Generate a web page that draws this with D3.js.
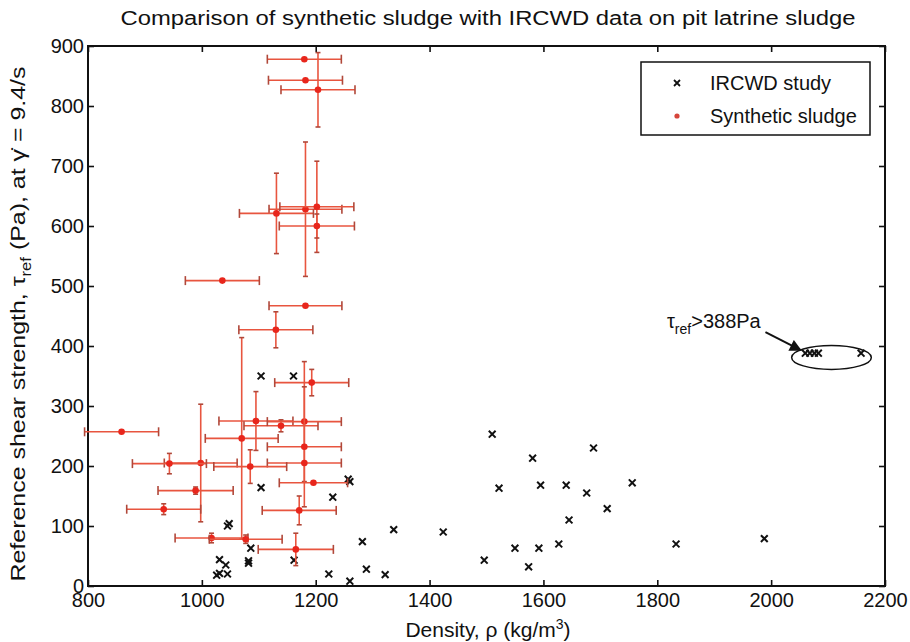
<!DOCTYPE html>
<html>
<head>
<meta charset="utf-8">
<script src="https://cdn.jsdelivr.net/npm/d3@7"></script>
<style>
body { margin: 0; background: #fff; }
text { font-family: "Liberation Sans", Arial, sans-serif; fill: #111; }
</style>
</head>
<body>
<svg id="chart" width="910" height="642"></svg>
<script>
// IRCWD study (black crosses)
var ircwdDensity = [1257, 1260, 1104, 1230, 1048, 1045, 1282, 1086, 1031, 1082, 1082, 1162, 1042, 1289,
  1026, 1031, 1045, 1223, 1260, 1322, 1104, 1161, 1337, 1424, 1510, 1522, 1496, 1550, 1574, 1581,
  1592, 1595, 1627, 1640, 1645, 1676, 1688, 1712, 1756, 1833, 1988, 2060, 2068, 2076, 2083, 2158];
var ircwdTau = [178, 174, 164, 148, 104, 100, 74, 63, 44, 42, 38, 43, 35, 28,
  18, 21, 20, 20, 8, 19, 350, 350, 94, 90, 253, 163, 43, 63, 32, 213,
  63, 168, 70, 168, 110, 155, 230, 129, 172, 70, 79, 388, 388, 388, 388, 388];

// Synthetic sludge (red dots with error bars)
var synDensity = [1180, 1182, 1204, 1182, 1202, 1131, 1202, 1036, 1182, 1130, 1193, 1095, 1139, 1180,
  1070, 1180, 1180, 998, 943, 1085, 1196, 989, 933, 1171, 1017, 1077, 1165, 859];
var synTau = [878, 843, 827, 628, 632, 621, 600, 509, 467, 427, 339, 275, 267, 274,
  246, 232, 205, 205, 204, 199, 172, 159, 128, 126, 80, 78, 61, 257];
var synDensityErr = [65, 65, 65, 64, 65, 65, 66, 65, 64, 65, 65, 65, 65, 65,
  64, 65, 65, 64, 65, 64, 60, 66, 65, 65, 64, 64, 66, 65];
var synTauErr = [0, 0, 62, 112, 76, 67, 20, 0, 0, 30, 22, 49, 10, 100,
  168, 100, 0, 98, 17, 28, 0, 6, 9, 24, 8, 7, 27, 0];

var xTicks = [800, 1000, 1200, 1400, 1600, 1800, 2000, 2200];
var yTicks = [0, 100, 200, 300, 400, 500, 600, 700, 800, 900];

// annotation for the off-scale IRCWD samples
var noteText = ">388Pa";
var noteAt = [1817, 430];
var arrowFrom = [1990, 423], arrowTo = [2052, 393];
var ringCentre = [2106, 381], ringRadius = [70, 20];

var svg = d3.select("#chart");
// plot box edges ("top" is taken by window.top, so prefix them)
var pLeft = 88, pRight = 885, pTop = 46, pBottom = 586;

var x = d3.scaleLinear().domain([800, 2200]).range([pLeft, pRight]);
var y = d3.scaleLinear().domain([0, 900]).range([pBottom, pTop]);

// title
svg.append("text")
  .attr("x", 488).attr("y", 25)
  .attr("text-anchor", "middle")
  .style("font-size", "20px")
  .attr("textLength", 735).attr("lengthAdjust", "spacingAndGlyphs")
  .text("Comparison of synthetic sludge with IRCWD data on pit latrine sludge");

// axes, ticks point inwards on all four sides
svg.append("g").attr("transform", "translate(0," + pBottom + ")")
  .call(d3.axisBottom(x).tickValues(xTicks).tickFormat(d3.format("d"))
    .tickSizeInner(-6).tickSizeOuter(0).tickPadding(7));
svg.append("g").attr("transform", "translate(" + pLeft + ",0)")
  .call(d3.axisLeft(y).tickValues(yTicks).tickFormat(d3.format("d"))
    .tickSizeInner(-6).tickSizeOuter(0).tickPadding(4));
svg.append("g").attr("transform", "translate(0," + pTop + ")")
  .call(d3.axisTop(x).tickValues(xTicks).tickSizeInner(-6).tickSizeOuter(0).tickFormat(""));
svg.append("g").attr("transform", "translate(" + pRight + ",0)")
  .call(d3.axisRight(y).tickValues(yTicks).tickSizeInner(-6).tickSizeOuter(0).tickFormat(""));

svg.selectAll(".domain").remove();
svg.selectAll(".tick line").attr("stroke", "#111").attr("stroke-width", 1.6);
svg.selectAll(".tick text").style("font-size", "20px").attr("fill", "#111")
  .style("font-family", "'Liberation Sans', Arial, sans-serif");

svg.append("rect")
  .attr("x", pLeft).attr("y", pTop)
  .attr("width", pRight - pLeft).attr("height", pBottom - pTop)
  .attr("fill", "none").attr("stroke", "#111").attr("stroke-width", 2);

// axis titles
var xlab = svg.append("text")
  .attr("x", 488).attr("y", 637)
  .attr("text-anchor", "middle")
  .style("font-size", "21px");
xlab.append("tspan").text("Density, ρ (kg/m");
xlab.append("tspan").attr("dy", -8).style("font-size", "14px").text("3");
xlab.append("tspan").attr("dy", 8).text(")");

var ylab = svg.append("text")
  .attr("transform", "translate(25,324)rotate(-90)")
  .attr("text-anchor", "middle")
  .style("font-size", "21px")
  .attr("textLength", 515).attr("lengthAdjust", "spacingAndGlyphs");
ylab.append("tspan").text("Reference shear strength, τ");
ylab.append("tspan").attr("dy", 6).style("font-size", "14px").text("ref");
ylab.append("tspan").attr("dy", -6).text(" (Pa), at γ\u0307 = 9.4/s");

// IRCWD crosses
var cross = 3.4;
svg.append("g").selectAll("path")
  .data(d3.range(ircwdDensity.length))
  .enter().append("path")
  .attr("d", function(i) {
    var cx = x(ircwdDensity[i]), cy = y(ircwdTau[i]);
    return "M" + (cx - cross) + "," + (cy - cross) + "L" + (cx + cross) + "," + (cy + cross)
         + "M" + (cx - cross) + "," + (cy + cross) + "L" + (cx + cross) + "," + (cy - cross);
  })
  .attr("stroke", "#111").attr("stroke-width", 2).attr("fill", "none");

// synthetic sludge error bars
var barColour = "#e8553f", capColour = "#b0483a";
var err = svg.append("g").selectAll("g")
  .data(d3.range(synDensity.length))
  .enter().append("g");

err.append("line")
  .attr("x1", function(i) { return x(synDensity[i] - synDensityErr[i]); })
  .attr("x2", function(i) { return x(synDensity[i] + synDensityErr[i]); })
  .attr("y1", function(i) { return y(synTau[i]); })
  .attr("y2", function(i) { return y(synTau[i]); })
  .attr("stroke", barColour).attr("stroke-width", 1.6);

err.filter(function(i) { return synTauErr[i] > 0; }).append("line")
  .attr("x1", function(i) { return x(synDensity[i]); })
  .attr("x2", function(i) { return x(synDensity[i]); })
  .attr("y1", function(i) { return y(synTau[i] - synTauErr[i]); })
  .attr("y2", function(i) { return y(synTau[i] + synTauErr[i]); })
  .attr("stroke", barColour).attr("stroke-width", 1.6);

// caps on both bars
[-1, 1].forEach(function(s) {
  err.append("line")
    .attr("x1", function(i) { return x(synDensity[i] + s * synDensityErr[i]); })
    .attr("x2", function(i) { return x(synDensity[i] + s * synDensityErr[i]); })
    .attr("y1", function(i) { return y(synTau[i]) - 4.5; })
    .attr("y2", function(i) { return y(synTau[i]) + 4.5; })
    .attr("stroke", capColour).attr("stroke-width", 1.6);
  err.filter(function(i) { return synTauErr[i] > 0; }).append("line")
    .attr("x1", function(i) { return x(synDensity[i]) - 2.5; })
    .attr("x2", function(i) { return x(synDensity[i]) + 2.5; })
    .attr("y1", function(i) { return y(synTau[i] + s * synTauErr[i]); })
    .attr("y2", function(i) { return y(synTau[i] + s * synTauErr[i]); })
    .attr("stroke", capColour).attr("stroke-width", 1.6);
});

err.append("circle")
  .attr("cx", function(i) { return x(synDensity[i]); })
  .attr("cy", function(i) { return y(synTau[i]); })
  .attr("r", 3.3)
  .attr("fill", "#e8261c");

// ring + arrow annotation
svg.append("ellipse")
  .attr("cx", x(ringCentre[0])).attr("cy", y(ringCentre[1]))
  .attr("rx", x(ringCentre[0] + ringRadius[0]) - x(ringCentre[0]))
  .attr("ry", y(ringCentre[1]) - y(ringCentre[1] + ringRadius[1]))
  .attr("fill", "none").attr("stroke", "#111").attr("stroke-width", 1.5);

svg.append("defs").append("marker")
  .attr("id", "head").attr("viewBox", "0 0 10 10")
  .attr("refX", 9).attr("refY", 5)
  .attr("markerWidth", 7).attr("markerHeight", 6)
  .attr("orient", "auto")
  .append("path").attr("d", "M0,0L10,5L0,10Z").attr("fill", "#111");

svg.append("line")
  .attr("x1", x(arrowFrom[0])).attr("y1", y(arrowFrom[1]))
  .attr("x2", x(arrowTo[0])).attr("y2", y(arrowTo[1]))
  .attr("stroke", "#111").attr("stroke-width", 2)
  .attr("marker-end", "url(#head)");

var note = svg.append("text")
  .attr("x", x(noteAt[0])).attr("y", y(noteAt[1]))
  .style("font-size", "20px");
note.append("tspan").text("τ");
note.append("tspan").attr("dy", 6).style("font-size", "14px").text("ref");
note.append("tspan").attr("dy", -6).text(noteText);

// legend
var lg = svg.append("g");
lg.append("rect")
  .attr("x", 641).attr("y", 62).attr("width", 229).attr("height", 73)
  .attr("fill", "#fff").attr("stroke", "#111").attr("stroke-width", 1.5);
var lc = 3;
lg.append("path")
  .attr("d", "M" + (677 - lc) + "," + (83 - lc) + "L" + (677 + lc) + "," + (83 + lc)
           + "M" + (677 - lc) + "," + (83 + lc) + "L" + (677 + lc) + "," + (83 - lc))
  .attr("stroke", "#111").attr("stroke-width", 1.8);
lg.append("circle").attr("cx", 677).attr("cy", 116).attr("r", 2.6).attr("fill", "#d6453a");
lg.append("text").attr("x", 710).attr("y", 90).style("font-size", "20px").text("IRCWD study");
lg.append("text").attr("x", 710).attr("y", 123).style("font-size", "20px").text("Synthetic sludge");
</script>
</body>
</html>
